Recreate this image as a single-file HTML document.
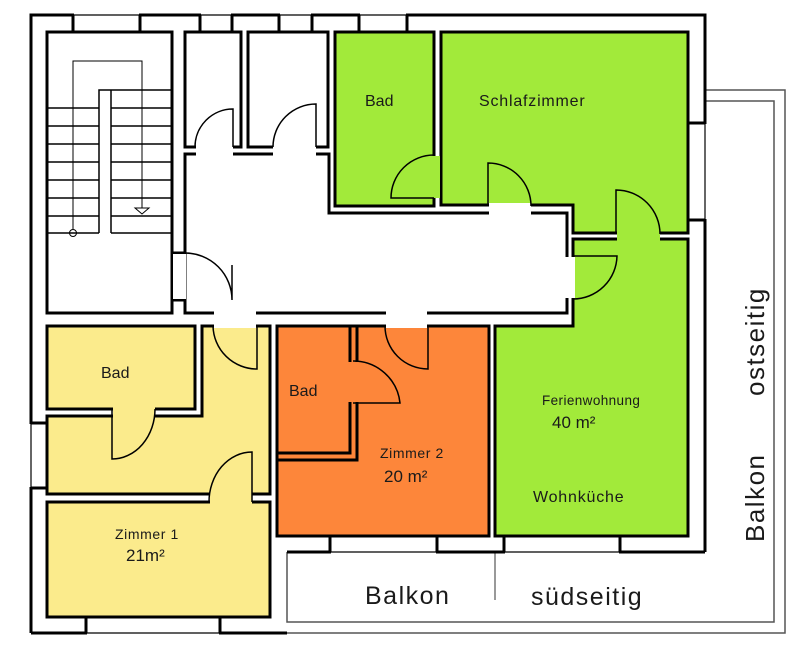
<!DOCTYPE html>
<html><head><meta charset="utf-8"><style>
html,body{margin:0;padding:0;background:#fff;}
svg{display:block;}
text{font-family:"Liberation Sans",Arial,sans-serif;fill:#1a1a1a;}
</style></head><body>
<svg width="805" height="660" viewBox="0 0 805 660" xmlns="http://www.w3.org/2000/svg">
<g fill="none" stroke="#555" stroke-width="1.5">
<polyline points="705,90 785,90 785,633 31,633"/>
<polyline points="705,101 774,101 774,622 287,622 287,552"/>
<line x1="495" y1="552" x2="495" y2="600" stroke="#777"/>
</g>
<g fill="none" stroke="#000" stroke-width="3">
<polyline points="31,633 31,15 705,15 705,101"/>
<line x1="705" y1="101" x2="705" y2="552"/>
<line x1="287" y1="552" x2="705" y2="552"/>
<line x1="31" y1="633" x2="287" y2="633"/>
</g>
<g fill="#fff" stroke="none">
<rect x="74" y="13" width="65" height="5"/>
<rect x="201" y="13" width="30" height="5"/>
<rect x="280" y="13" width="31" height="5"/>
<rect x="360" y="13" width="46" height="5"/>
<rect x="29" y="424" width="5" height="63"/>
<rect x="87" y="630" width="132" height="5"/>
<rect x="331" y="549" width="105" height="5"/>
<rect x="505" y="549" width="114" height="5"/>
<rect x="702" y="124" width="5" height="95"/>
</g>
<g fill="none" stroke="#000" stroke-width="1.2">
<line x1="31" y1="15" x2="705" y2="15"/>
<line x1="31" y1="15" x2="31" y2="633"/>
<line x1="31" y1="633" x2="287" y2="633"/>
<line x1="287" y1="552" x2="705" y2="552"/>
<line x1="705" y1="101" x2="705" y2="552"/>
</g>
<g stroke="#000" stroke-width="3">
<line x1="73" y1="15" x2="73" y2="32"/><line x1="140" y1="15" x2="140" y2="32"/>
<line x1="200" y1="15" x2="200" y2="32"/><line x1="232" y1="15" x2="232" y2="32"/>
<line x1="279" y1="15" x2="279" y2="32"/><line x1="312" y1="15" x2="312" y2="32"/>
<line x1="359" y1="15" x2="359" y2="32"/><line x1="407" y1="15" x2="407" y2="32"/>
<line x1="31" y1="423" x2="47" y2="423"/><line x1="31" y1="488" x2="47" y2="488"/>
<line x1="86" y1="617" x2="86" y2="633"/><line x1="220" y1="617" x2="220" y2="633"/>
<line x1="330" y1="536" x2="330" y2="552"/><line x1="437" y1="536" x2="437" y2="552"/>
<line x1="504" y1="536" x2="504" y2="552"/><line x1="620" y1="536" x2="620" y2="552"/>
<line x1="688" y1="123" x2="705" y2="123"/><line x1="688" y1="220" x2="705" y2="220"/>
<line x1="172" y1="253" x2="185" y2="253"/><line x1="172" y1="300" x2="185" y2="300"/>
</g>
<g stroke="#000" stroke-width="3">
<rect x="47" y="32" width="125" height="281" fill="#fff"/>
<rect x="185" y="32" width="56" height="115" fill="#fff"/>
<rect x="248" y="32" width="80" height="115" fill="#fff"/>
<polygon points="185,154 329,154 329,213 567,213 567,313 185,313" fill="#fff"/>
<rect x="335" y="32" width="99" height="174" fill="#a2ea3a"/>
<polygon points="441,32 688,32 688,233 573,233 573,205 441,205" fill="#a2ea3a"/>
<polygon points="573,239 688,239 688,536 495,536 495,326 573,326" fill="#a2ea3a"/>
<rect x="277" y="326" width="212" height="210" fill="#fd863a"/>
<polyline points="277,460 357,460 357,326" fill="none"/>
<rect x="277" y="326" width="73" height="127" fill="#fd863a"/>
<polygon points="202,326 270,326 270,494 47,494 47,416 202,416" fill="#fbeb8c"/>
<rect x="47" y="326" width="148" height="83" fill="#fbeb8c"/>
<rect x="47" y="502" width="223" height="115" fill="#fbeb8c"/>
</g>
<g fill="#fff">
<rect x="173" y="254" width="13" height="45"/>
<rect x="196" y="145" width="37" height="11"/>
<rect x="273" y="145" width="43" height="11"/>
<rect x="214" y="311" width="42" height="17" />
<rect x="386" y="311" width="41" height="17"/>
<rect x="489" y="203" width="42" height="12"/>
<rect x="565" y="257" width="10" height="41"/>
</g>
<g fill="#fbeb8c"><rect x="113" y="407" width="42" height="11"/><rect x="210" y="492" width="42" height="12"/><rect x="214" y="328" width="42" height="10"/></g>
<g fill="#fd863a"><rect x="386" y="328" width="41" height="10"/><rect x="348" y="362" width="11" height="40"/></g>
<g fill="#a2ea3a"><rect x="617" y="231" width="43" height="10"/><rect x="432" y="156" width="8" height="42"/><rect x="575" y="257" width="10" height="41"/></g>
<g fill="none" stroke="#000" stroke-width="1.5">
<path d="M233,147 V109 A38,38 0 0 0 195,147"/>
<path d="M316,147 V104 A43,43 0 0 0 273,147"/>
<path d="M185,253 A47,47 0 0 1 232,300 V265"/>
<path d="M434,155 A43,43 0 0 0 391,198 H434"/>
<path d="M488,205 V163 A43,43 0 0 1 531,206"/>
<path d="M616,233 V190 A44,44 0 0 1 660,234"/>
<path d="M573,256 H617 A44,44 0 0 1 573,299"/>
<path d="M213,326 A44,44 0 0 0 257,369 V326"/>
<path d="M385,326 A43,43 0 0 0 428,369 V326"/>
<path d="M353,361 A47,47 0 0 1 400,403 H353"/>
<path d="M112,409 V459 A43,50 0 0 0 155,409"/>
<path d="M252,502 V452 A43,50 0 0 0 209,502"/>
</g>
<g fill="none" stroke="#000" stroke-width="1.5">
<polyline points="99,233 99,90 172,90"/>
<polyline points="111,233 111,90"/>
<line x1="48" y1="108" x2="99" y2="108"/><line x1="111" y1="108" x2="172" y2="108"/>
<line x1="48" y1="126" x2="99" y2="126"/><line x1="111" y1="126" x2="172" y2="126"/>
<line x1="48" y1="144" x2="99" y2="144"/><line x1="111" y1="144" x2="172" y2="144"/>
<line x1="48" y1="162" x2="99" y2="162"/><line x1="111" y1="162" x2="172" y2="162"/>
<line x1="48" y1="180" x2="99" y2="180"/><line x1="111" y1="180" x2="172" y2="180"/>
<line x1="48" y1="198" x2="99" y2="198"/><line x1="111" y1="198" x2="172" y2="198"/>
<line x1="48" y1="216" x2="99" y2="216"/><line x1="111" y1="216" x2="172" y2="216"/>
<line x1="48" y1="233" x2="99" y2="233"/><line x1="111" y1="233" x2="172" y2="233"/>
<polyline points="73,229 73,61 142,61 142,208" stroke-width="1"/>
<circle cx="73" cy="233" r="3.5" stroke-width="1"/>
<path d="M135,208 H149 L142,214 Z" stroke-width="1"/>
</g>
<text x="365" y="106" font-size="16">Bad</text>
<text x="479" y="106" font-size="16" letter-spacing="0.8">Schlafzimmer</text>
<text x="101" y="378" font-size="16">Bad</text>
<text x="289" y="396" font-size="16">Bad</text>
<text x="380" y="458" font-size="14" letter-spacing="0.6">Zimmer 2</text>
<text x="384" y="482" font-size="17">20 m²</text>
<text x="542" y="405" font-size="13.5" letter-spacing="0.4">Ferienwohnung</text>
<text x="552" y="428" font-size="17">40 m²</text>
<text x="533" y="502" font-size="16" letter-spacing="0.8">Wohnküche</text>
<text x="115" y="539" font-size="14" letter-spacing="0.6">Zimmer 1</text>
<text x="126" y="561" font-size="17">21m²</text>
<text x="365" y="604" font-size="25" letter-spacing="1.5">Balkon</text>
<text x="531" y="605" font-size="25" letter-spacing="1.5">südseitig</text>
<text transform="translate(764,396) rotate(-90)" font-size="26" letter-spacing="1.5">ostseitig</text>
<text transform="translate(764,542) rotate(-90)" font-size="26" letter-spacing="1.5">Balkon</text>
</svg>
</body></html>
